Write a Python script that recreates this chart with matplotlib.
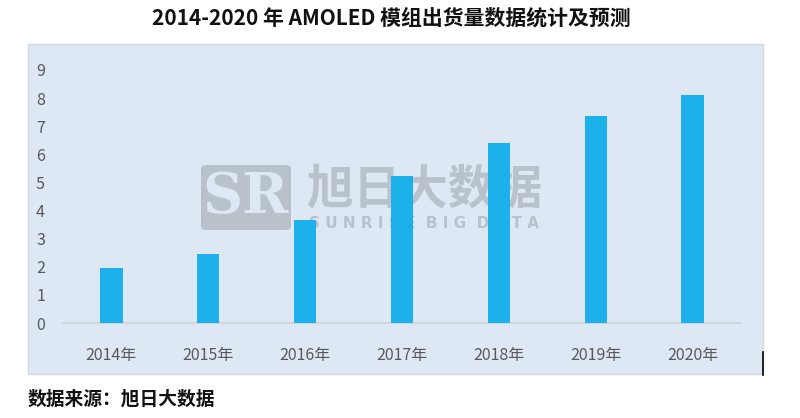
import matplotlib.pyplot as plt
from matplotlib.patches import Rectangle, FancyBboxPatch

plt.rcParams['font.family'] = ['Noto Sans CJK SC', 'DejaVu Sans']

years = ['2014年', '2015年', '2016年', '2017年', '2018年', '2019年', '2020年']
shipments = [1.95, 2.44, 3.66, 5.24, 6.42, 7.35, 8.1]
yticks = [0, 1, 2, 3, 4, 5, 6, 7, 8, 9]

bar_color = '#1DB1EC'
panel_color = '#DDE8F4'
label_color = '#595959'
mark_color = '#B9C1CA'

fig = plt.figure(figsize=(8, 4.18), dpi=100)

# background panel
panel = Rectangle((28/800, 1-374/418), 735/800, 330/418, transform=fig.transFigure,
                  facecolor=panel_color, edgecolor='#D3D9E0', lw=1, zorder=-1)
fig.patches.append(panel)

ax = fig.add_axes([63/800, 1-323/418, 678/800, 253/418])
ax.set_zorder(1)
ax.patch.set_alpha(0)

x = range(len(years))
ax.bar(x, shipments, width=0.23, color=bar_color, zorder=3)
ax.set_xlim(-0.5, len(years)-0.5)
ax.set_ylim(0, 9)
ax.set_yticks(yticks)
ax.set_xticks(list(x))
ax.set_xticklabels(years)

for s in ['top', 'right', 'left']:
    ax.spines[s].set_visible(False)
ax.spines['bottom'].set_color('#CDD3DA')
ax.spines['bottom'].set_linewidth(1.2)
ax.tick_params(axis='both', length=0, labelsize=11.5, colors=label_color)
ax.tick_params(axis='y', pad=13)
ax.tick_params(axis='x', pad=17)

# watermark (under the bars)
ft = fig.transFigure
logo = FancyBboxPatch((201/800, 1-230/418), 90/800, 65/418, transform=ft,
                      boxstyle='round,pad=0,rounding_size=0.008', facecolor=mark_color,
                      edgecolor='none', zorder=1, clip_on=False)
ax.add_patch(logo)
ax.text(246/800, 1-198/418, 'SR', fontsize=40, fontweight='bold', family='DejaVu Serif',
        color=panel_color, ha='center', va='center', zorder=2, transform=ft)
ax.text(424/800, 1-190/418, '旭日大数据', fontsize=34, fontweight='bold', color=mark_color,
        ha='center', va='center', zorder=1, transform=ft)
ax.text(424/800, 1-224/418, 'S U N R I S E  B I G  D A T A', fontsize=11, fontweight='bold',
        color=mark_color, ha='center', va='center', zorder=1, family='DejaVu Sans', transform=ft)

fig.text(391/800, 1-18/418, '2014-2020 年 AMOLED 模组出货量数据统计及预测', fontsize=15,
         fontweight='bold', color='#111111', ha='center', va='center')
fig.text(28/800, 1-399/418, '数据来源：旭日大数据', fontsize=13.5, fontweight='bold',
         color='#111111', ha='left', va='center', style='italic')

fig.lines.append(plt.Line2D([763/800, 763/800], [1-375/418, 1-352/418],
                            transform=ft, color='black', lw=1.2))

fig.savefig('out.png', dpi=100)
